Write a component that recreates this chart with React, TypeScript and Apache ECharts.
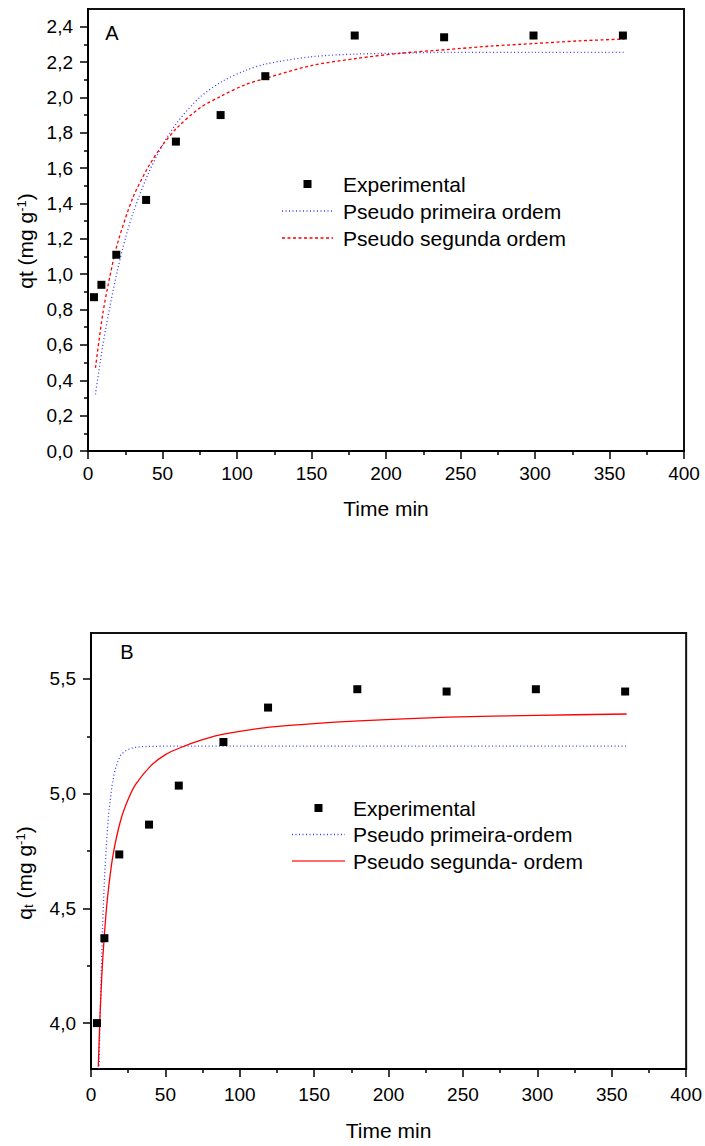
import React, { useEffect, useRef } from "react";
import * as echarts from "echarts";

const FONT = '"Liberation Sans", Arial, Helvetica, sans-serif';

// ---------- Panel A ----------
const timeA = [4, 9, 19, 39, 59, 89, 119, 179, 239, 299, 359];
const qtA = [0.87, 0.94, 1.11, 1.42, 1.75, 1.9, 2.12, 2.35, 2.34, 2.35, 2.35];
const firstTimeA = [5, 10, 15, 20, 25, 30, 40, 50, 60, 75, 90, 105, 120, 150, 180, 210, 240, 300, 360];
const firstQA = [0.32, 0.6, 0.83, 1.03, 1.2, 1.34, 1.56, 1.73, 1.86, 2.0, 2.09, 2.15, 2.19, 2.23, 2.245, 2.25, 2.255, 2.255, 2.255];
const secondTimeA = [5, 10, 15, 20, 30, 40, 50, 60, 75, 90, 105, 120, 150, 180, 210, 240, 270, 300, 330, 360];
const secondQA = [0.47, 0.78, 1.0, 1.18, 1.43, 1.6, 1.73, 1.83, 1.94, 2.01, 2.07, 2.11, 2.18, 2.22, 2.25, 2.27, 2.29, 2.305, 2.32, 2.33];
const yMajorA = [0, 0.2, 0.4, 0.6, 0.8, 1.0, 1.2, 1.4, 1.6, 1.8, 2.0, 2.2, 2.4];
const yMinorA = [0.1, 0.3, 0.5, 0.7, 0.9, 1.1, 1.3, 1.5, 1.7, 1.9, 2.1, 2.3];
const legendA = ["Experimental", "Pseudo primeira ordem", "Pseudo segunda ordem"];

// ---------- Panel B ----------
const timeB = [4, 9, 19, 39, 59, 89, 119, 179, 239, 299, 359];
const qtB = [4.0, 4.37, 4.735, 4.865, 5.035, 5.225, 5.375, 5.455, 5.445, 5.455, 5.445];
const firstTimeB = [5.4, 6, 7, 8, 9, 10, 11, 12, 14, 16, 18, 20, 24, 28, 35, 50, 100, 200, 300, 360];
const firstQB = [3.8, 3.99, 4.25, 4.46, 4.62, 4.74, 4.84, 4.92, 5.03, 5.1, 5.14, 5.17, 5.19, 5.2, 5.205, 5.207, 5.207, 5.207, 5.207, 5.207];
const secondTimeB = [4.9, 6, 7, 8, 10, 12, 15, 20, 25, 30, 40, 50, 60, 75, 90, 120, 150, 180, 240, 300, 360];
const secondQB = [3.81, 4.02, 4.17, 4.29, 4.47, 4.6, 4.74, 4.885, 4.975, 5.04, 5.12, 5.17, 5.2, 5.235, 5.26, 5.29, 5.305, 5.317, 5.333, 5.341, 5.347];
const yMajorB = [4.0, 4.5, 5.0, 5.5];
const yMinorB = [4.25, 4.75, 5.25];
const legendB = ["Experimental", "Pseudo primeira-ordem", "Pseudo segunda- ordem"];

const zip = (xs: number[], ys: number[]) => xs.map((x, i) => [x, ys[i]]);
const comma = (v: number) => v.toFixed(1).replace(".", ",");

const BLUE = "#3b3bff";
const RED = "#ff0000";

type Cfg = {
  grid: { left: number; top: number; width: number; height: number };
  yMin: number;
  yMax: number;
  yMajor: number[];
  yMinor: number[];
  exp: number[][];
  first: number[][];
  second: number[][];
  names: string[];
  secondType: any;
  secondSmooth: any;
  firstSmooth: any;
  xMargin: number;
  xNameGap: number;
  letter: { text: string; x: number; y: number };
  legend: { textX: number; y0: number; dy: number; lineX1: number; lineX2: number };
  yName: { x: number; y: number; text: string };
};

function makeOption(c: Cfg) {
  const tickStyle = { color: "#000", width: 1.5 };
  const labelStyle = { color: "#000", fontSize: 19, fontFamily: FONT };
  const g = c.grid;
  const L = c.legend;
  return {
    animation: false,
    grid: { ...g, show: true, borderColor: "#111", borderWidth: 2, backgroundColor: "transparent" },
    xAxis: {
      type: "value",
      min: 0,
      max: 400,
      interval: 50,
      name: "Time min",
      nameLocation: "middle",
      nameGap: c.xNameGap,
      nameTextStyle: { color: "#000", fontSize: 21, fontFamily: FONT },
      axisLine: { show: true, lineStyle: { color: "#000", width: 2 } },
      axisTick: { show: true, inside: false, length: 8, lineStyle: tickStyle },
      minorTick: { show: true, splitNumber: 2, length: 4, lineStyle: tickStyle },
      axisLabel: { ...labelStyle, margin: c.xMargin },
      splitLine: { show: false },
      minorSplitLine: { show: false },
    },
    yAxis: [
      {
        type: "value",
        min: c.yMin,
        max: c.yMax,
        position: "left",
        axisLine: { show: true, lineStyle: { color: "#000", width: 2 } },
        axisTick: { show: true, inside: false, length: 8, customValues: c.yMajor, lineStyle: tickStyle },
        axisLabel: { ...labelStyle, margin: 15, customValues: c.yMajor, formatter: (v: number) => comma(v) },
        splitLine: { show: false },
      },
      {
        type: "value",
        min: c.yMin,
        max: c.yMax,
        position: "left",
        axisLine: { show: false },
        axisTick: { show: true, inside: false, length: 4, customValues: c.yMinor, lineStyle: tickStyle },
        axisLabel: { show: false },
        splitLine: { show: false },
      },
    ],
    series: [
      {
        name: c.names[0],
        type: "scatter",
        symbol: "rect",
        symbolSize: 8,
        itemStyle: { color: "#000", opacity: 1 },
        data: c.exp,
        z: 5,
      },
      {
        name: c.names[1],
        type: "line",
        showSymbol: false,
        smooth: c.firstSmooth,
        lineStyle: { color: BLUE, width: 1.3, type: [1, 2.5] },
        data: c.first,
        z: 3,
      },
      {
        name: c.names[2],
        type: "line",
        showSymbol: false,
        smooth: c.secondSmooth,
        lineStyle: { color: RED, width: 1.3, type: c.secondType },
        data: c.second,
        z: 4,
      },
    ],
    graphic: [
      {
        type: "text",
        x: c.letter.x,
        y: c.letter.y,
        style: { text: c.letter.text, fontSize: 20, fontFamily: FONT, fill: "#000", align: "center", verticalAlign: "middle" },
      },
      {
        type: "text",
        x: c.yName.x,
        y: c.yName.y,
        rotation: Math.PI / 2,
        style: {
          text: c.yName.text,
          fontSize: 21,
          fontFamily: FONT,
          fill: "#000",
          align: "center",
          verticalAlign: "middle",
          rich: {
            a: { fontSize: 21, fontFamily: FONT, fill: "#000" },
            sup: { fontSize: 13, fontFamily: FONT, fill: "#000", verticalAlign: "top" },
            sub: { fontSize: 13, fontFamily: FONT, fill: "#000", verticalAlign: "bottom" },
          },
        },
      },
      // legend
      {
        type: "rect",
        shape: { x: (L.lineX1 + L.lineX2) / 2 - 4, y: L.y0 - 4, width: 8, height: 8 },
        style: { fill: "#000" },
      },
      {
        type: "line",
        shape: { x1: L.lineX1, y1: L.y0 + L.dy, x2: L.lineX2, y2: L.y0 + L.dy },
        style: { stroke: BLUE, lineWidth: 1.3, lineDash: [1, 2.5] },
      },
      {
        type: "line",
        shape: { x1: L.lineX1, y1: L.y0 + 2 * L.dy, x2: L.lineX2, y2: L.y0 + 2 * L.dy },
        style: {
          stroke: c.secondType === "solid" ? "#ff6b6b" : RED,
          lineWidth: c.secondType === "solid" ? 2 : 1.3,
          lineDash: c.secondType === "solid" ? null : [3, 2.5],
        },
      },
      ...c.names.map((n, i) => ({
        type: "text",
        x: L.textX,
        y: L.y0 + i * L.dy,
        style: { text: n, fontSize: 21, fontFamily: FONT, fill: "#000", align: "left", verticalAlign: "middle" },
      })),
    ],
  };
}

const optA = makeOption({
  grid: { left: 88, top: 9, width: 596, height: 442 },
  yMin: 0,
  yMax: 2.5,
  yMajor: yMajorA,
  yMinor: yMinorA,
  exp: zip(timeA, qtA),
  first: zip(firstTimeA, firstQA),
  second: zip(secondTimeA, secondQA),
  names: legendA,
  secondType: [3, 2.5],
  secondSmooth: 0.3,
  firstSmooth: 0.3,
  xMargin: 13,
  xNameGap: 47,
  letter: { text: "A", x: 112, y: 33 },
  legend: { textX: 343, y0: 184, dy: 27, lineX1: 282, lineX2: 333 },
  yName: { x: 25, y: 241, text: "{a|qt (mg g}{sup|-1}{a|)}" },
});

const optB = makeOption({
  grid: { left: 91, top: 73, width: 596, height: 443 },
  yMin: 3.8,
  yMax: 5.7,
  yMajor: yMajorB,
  yMinor: yMinorB,
  exp: zip(timeB, qtB),
  first: zip(firstTimeB, firstQB),
  second: zip(secondTimeB, secondQB),
  names: legendB,
  secondType: "solid",
  secondSmooth: 0.3,
  firstSmooth: false,
  xMargin: 16,
  xNameGap: 51,
  letter: { text: "B", x: 127, y: 92 },
  legend: { textX: 353, y0: 248, dy: 26.5, lineX1: 292, lineX2: 345 },
  yName: { x: 24, y: 313, text: "{a|q}{sub|t}{a| (mg g}{sup|-1}{a|)}" },
});

export default function App() {
  const refA = useRef<HTMLDivElement>(null);
  const refB = useRef<HTMLDivElement>(null);
  useEffect(() => {
    const a = echarts.init(refA.current!, undefined, { renderer: "svg" });
    const b = echarts.init(refB.current!, undefined, { renderer: "svg" });
    a.setOption(optA as any);
    b.setOption(optB as any);
    return () => {
      a.dispose();
      b.dispose();
    };
  }, []);
  return (
    <div style={{ position: "absolute", left: 0, top: 0, width: 705, height: 1146, background: "#fff" }}>
      <div ref={refA} style={{ position: "absolute", left: 0, top: 0, width: 705, height: 560 }} />
      <div ref={refB} style={{ position: "absolute", left: 0, top: 560, width: 705, height: 586 }} />
    </div>
  );
}
